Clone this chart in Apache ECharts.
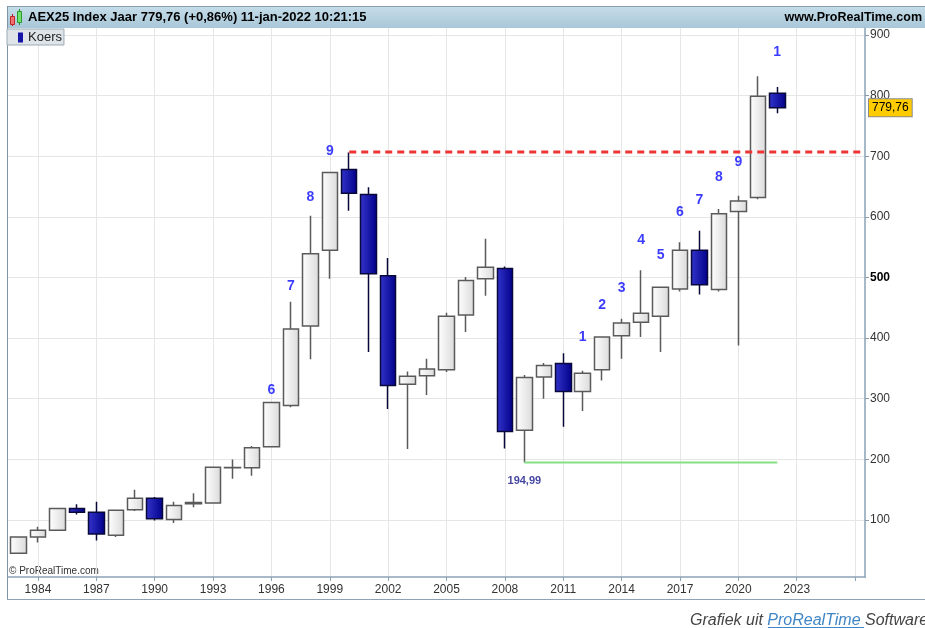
<!DOCTYPE html>
<html><head><meta charset="utf-8">
<script src="https://cdn.jsdelivr.net/npm/echarts@6/dist/echarts.min.js"></script>
<style>html,body{margin:0;padding:0;background:#fff;}#c{width:925px;height:628px;}</style>
</head><body><div id="c"></div>
<script>
// ---- data ----
const years  = [1983,1984,1985,1986,1987,1988,1989,1990,1991,1992,1993,1994,1995,1996,1997,1998,1999,2000,2001,2002,2003,2004,2005,2006,2007,2008,2009,2010,2011,2012,2013,2014,2015,2016,2017,2018,2019,2020,2021,2022];
const opens  = [45,72,83,119,113,75,117,136,101,127,128,186,186,221,289,420,545,678,637,503,324,338,348,438,498,515,248,336,358,312,348,404,426,436,481,545,480,609,632,804];
const closes = [72,83,119,113,77,116,136,102,124,129,187,186.5,219,294,415,539,673,639,506,322,337,349,436,495,517,246,335,355,312,342,402,425,441,484,545,488,605,626,799,779.76];
const lows   = [44,63,82,109,66,72,115,99,95,121,127,168,173,220,286,365,498,610,377,283,217,306,344,410,470,218,194.99,300,254,280,330,366,402,377,477,472,477,388,629,771];
const highs  = [73,89,120,126,130,117,150,138,130,144,188,200,222,295,460,602,674,706,649,532,345,366,442,501,564,518,339,359,375,346,403,432,512,485,558,577,613,635,832,814];

const countYears  = [1996,1997,1998,1999,2012,2013,2014,2015,2016,2017,2018,2019,2020,2022];
const countTexts  = ['6','7','8','9','1','2','3','4','5','6','7','8','9','1'];
const countLevels = [314,485,632,708,401,454,482,562,537,608,628,665,691,871];

const resistanceLevel = 707;
const resistanceFrom = 2000;
const supportLevel = 194.99;
const supportFrom = 2009;
const supportTo = 2022;

const xTickYears  = [1984,1987,1990,1993,1996,1999,2002,2005,2008,2011,2014,2017,2020,2023,2026];
const xLabelYears = [1984,1987,1990,1993,1996,1999,2002,2005,2008,2011,2014,2017,2020,2023];
const yTicks = [100,200,300,400,500,600,700,800,900];
const xMin = 1982.46, xMax = 2026.51;
const yMin = 6, yMax = 911.5;

const FONT = "'Liberation Sans', Arial, sans-serif";
const fmt = v => v.toFixed(2).replace('.', ',');

const chart = echarts.init(document.getElementById('c'), null, {renderer: 'canvas'});

const upGrad = new echarts.graphic.LinearGradient(0, 0, 1, 0, [
  {offset: 0, color: '#ffffff'}, {offset: 1, color: '#dadada'}]);
const downGrad = new echarts.graphic.LinearGradient(0, 0, 1, 0, [
  {offset: 0, color: '#3434cc'}, {offset: 1, color: '#000088'}]);

const candleData = years.map((y, i) => [y, opens[i], closes[i], lows[i], highs[i]]);
const lastClose = closes[closes.length - 1];

const option = {
  animation: false,
  backgroundColor: '#ffffff',
  textStyle: {fontFamily: FONT},
  title: [
    {text: 'AEX25 Index Jaar 779,76 (+0,86%) 11-jan-2022 10:21:15', left: 28, top: 11, padding: 0,
     textStyle: {fontSize: 13, fontWeight: 'bold', color: '#000', fontFamily: FONT}},
    {text: 'www.ProRealTime.com', right: 3, top: 11, padding: 0,
     textStyle: {fontSize: 12.5, fontWeight: 'bold', color: '#000', fontFamily: FONT}}
  ],
  legend: {
    left: 7, top: 29, selectedMode: false,
    itemWidth: 5, itemHeight: 10, itemGap: 0,
    padding: [2, 2, 1, 11],
    backgroundColor: '#dfe4e8', borderColor: '#9aabb8', borderWidth: 1,
    textStyle: {fontSize: 13, color: '#222', fontFamily: FONT},
    data: [{name: 'Koers', icon: 'rect', itemStyle: {color: '#1414a8', borderWidth: 0}}]
  },
  grid: {left: 8, right: 60, top: 28, bottom: 51},
  xAxis: {
    type: 'value', min: xMin, max: xMax,
    axisLine: {show: true, onZero: false, lineStyle: {color: '#8fa3b6', width: 1.5}},
    axisTick: {show: true, customValues: xTickYears, length: 4, lineStyle: {color: '#8fa3b6'}},
    axisLabel: {customValues: xLabelYears, color: '#333', fontSize: 12, margin: 7,
                formatter: v => String(v), fontFamily: FONT},
    splitLine: {show: true, lineStyle: {color: '#e6e6e6', width: 1}}
  },
  yAxis: {
    type: 'value', position: 'right', min: yMin, max: yMax,
    axisLine: {show: true, onZero: false, lineStyle: {color: '#a6b9c9', width: 2}},
    axisTick: {show: true, customValues: yTicks, length: 4, lineStyle: {color: '#8a9aa8'}},
    axisLabel: {customValues: yTicks, color: '#333', fontSize: 12, margin: 5, fontFamily: FONT,
                formatter: v => v === 500 ? '{b|500}' : String(v),
                rich: {b: {fontWeight: 'bold', color: '#000', fontSize: 12, fontFamily: FONT}}},
    splitLine: {show: true, lineStyle: {color: '#e6e6e6', width: 1}}
  },
  series: [
    {
      name: 'Koers', type: 'candlestick', data: candleData,
      encode: {x: 0, y: [1, 2, 3, 4]},
      barWidth: 16,
      itemStyle: {color: upGrad, color0: downGrad, borderColor: '#5a5a5a', borderColor0: '#08083a', borderWidth: 1.5},
      z: 2,
      markLine: {
        silent: true, animation: false, symbol: ['none', 'none'],
        lineStyle: {color: 'rgba(0,0,0,0)', width: 0},
        label: {show: true, position: 'end', distance: 4, formatter: () => fmt(lastClose),
                backgroundColor: '#ffcc00', borderColor: '#8a8a8a', borderWidth: 1,
                padding: [3, 3, 2, 3], color: '#000', fontSize: 12, fontFamily: FONT},
        data: [{yAxis: lastClose}]
      }
    },
    {
      name: 'support', type: 'line', symbol: 'none', z: 3,
      data: [[supportFrom, supportLevel], [supportTo, supportLevel]],
      lineStyle: {color: '#86e086', width: 2}
    },
    {
      name: 'resistance', type: 'line', symbol: 'none', z: 4,
      data: [[resistanceFrom, resistanceLevel], [xMax, resistanceLevel]],
      lineStyle: {color: '#ee3535', width: 3, type: [7, 5]}
    },
    {
      name: 'counts', type: 'scatter', symbolSize: 1, z: 5,
      itemStyle: {color: 'rgba(0,0,0,0)'},
      data: countYears.map((y, i) => [y, countLevels[i], countTexts[i]]),
      encode: {x: 0, y: 1},
      label: {show: true, position: 'inside', formatter: p => p.value[2],
              color: '#0a0aff', fontWeight: 'bold', fontSize: 14, fontFamily: FONT}
    },
    {
      name: 'supportLabel', type: 'scatter', symbolSize: 1, z: 5,
      itemStyle: {color: 'rgba(0,0,0,0)'},
      data: [[supportFrom, supportLevel]],
      label: {show: true, position: 'bottom', distance: 13, formatter: () => fmt(supportLevel),
              color: '#14148a', fontWeight: 'bold', fontSize: 11, fontFamily: FONT}
    }
  ],
  graphic: [
    {type: 'rect', z: -10, silent: true, shape: {x: 7, y: 6, width: 920, height: 22},
     style: {fill: new echarts.graphic.LinearGradient(0, 0, 0, 1, [
       {offset: 0, color: '#c6dde9'}, {offset: 1, color: '#a8c7d8'}])}},
    {type: 'line', z: -9, silent: true, shape: {x1: 7, y1: 6.5, x2: 925, y2: 6.5}, style: {stroke: '#8a9fae', lineWidth: 1}},
    {type: 'line', z: -9, silent: true, shape: {x1: 7.5, y1: 6, x2: 7.5, y2: 600}, style: {stroke: '#7f93a3', lineWidth: 1}},
    {type: 'line', z: -9, silent: true, shape: {x1: 7, y1: 599.5, x2: 925, y2: 599.5}, style: {stroke: '#8fa3b6', lineWidth: 1}},
    // small candlestick icon in header
    {type: 'line', silent: true, shape: {x1: 12.5, y1: 14, x2: 12.5, y2: 26}, style: {stroke: '#b02020', lineWidth: 1}},
    {type: 'rect', silent: true, shape: {x: 10.5, y: 16.5, width: 4, height: 8}, style: {fill: '#f07070', stroke: '#c02828', lineWidth: 1}},
    {type: 'line', silent: true, shape: {x1: 19.5, y1: 9, x2: 19.5, y2: 25}, style: {stroke: '#208a20', lineWidth: 1}},
    {type: 'rect', silent: true, shape: {x: 17.5, y: 11.5, width: 4, height: 11}, style: {fill: '#70e070', stroke: '#2a9a2a', lineWidth: 1}},
    {type: 'text', silent: true, style: {text: '© ProRealTime.com', x: 9, y: 571.5, verticalAlign: 'middle',
      fill: '#333', fontSize: 10, fontFamily: FONT}},
    {type: 'text', silent: true, style: {x: 690, y: 621, verticalAlign: 'middle',
      text: '{g|Grafiek uit }{l|ProRealTime }{g|Software}',
      rich: {
        g: {fill: '#444', fontStyle: 'italic', fontSize: 16, fontFamily: FONT},
        l: {fill: '#3f86c6', fontStyle: 'italic', fontSize: 16, fontFamily: FONT}
      }}},
    {type: 'line', silent: true, shape: {x1: 768, y1: 627.5, x2: 864, y2: 627.5}, style: {stroke: '#3f86c6', lineWidth: 1}}
  ]
};
chart.setOption(option);
</script>
</body></html>
